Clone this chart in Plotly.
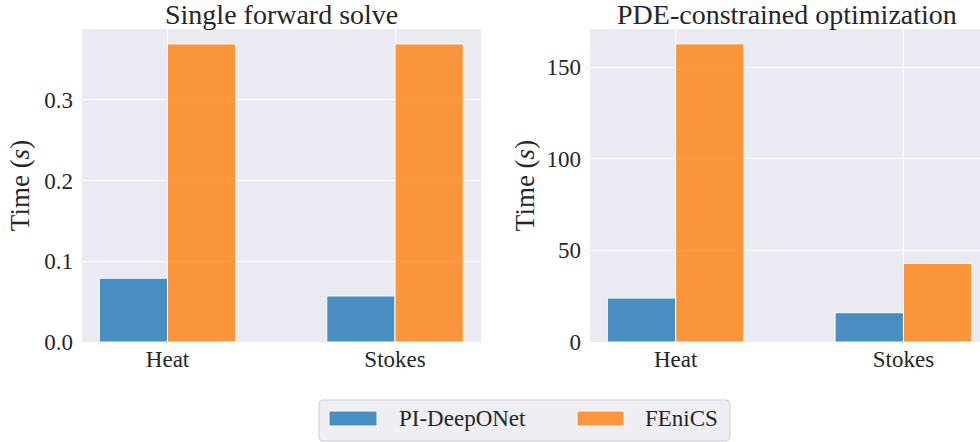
import plotly.graph_objects as go
from plotly.subplots import make_subplots

categories = ["Heat", "Stokes"]
series_names = ["PI-DeepONet", "FEniCS"]
forward_pideeponet = [0.079, 0.057]
forward_fenics = [0.369, 0.369]
optim_pideeponet = [24.0, 16.0]
optim_fenics = [162.8, 42.9]
titles = ["Single forward solve", "PDE-constrained optimization"]
left_ticks = [0.0, 0.1, 0.2, 0.3]
right_ticks = [0, 50, 100, 150]

colors = ["rgba(31,119,180,0.8)", "rgba(255,127,14,0.8)"]
FONT = "Liberation Serif"
BG = "#eaeaf2"
TXT = "#262626"
W, H = 980, 442

fig = make_subplots(rows=1, cols=2)
data = [(forward_pideeponet, forward_fenics), (optim_pideeponet, optim_fenics)]
for c, (a, b) in enumerate(data, start=1):
    for i, (name, vals) in enumerate(zip(series_names, (a, b))):
        fig.add_trace(go.Bar(
            x=categories, y=vals, name=name,
            marker=dict(color=colors[i], line=dict(color="white", width=1)),
            showlegend=False,
        ), row=1, col=c)

ydom = [1 - 342 / H, 1 - 29 / H]
fig.update_layout(
    width=W, height=H,
    margin=dict(l=0, r=0, t=0, b=0, pad=0, autoexpand=False),
    paper_bgcolor="white", plot_bgcolor=BG,
    barmode="group", bargap=0.4, bargroupgap=0,
    font=dict(family=FONT, color=TXT, size=23),
    showlegend=False,
    xaxis=dict(domain=[82 / W, 481 / W], range=[-0.376, 1.378]),
    xaxis2=dict(domain=[590 / W, 1.0], range=[-0.376, 1.336]),
    yaxis=dict(domain=ydom, range=[0, 0.3875], tickvals=left_ticks, tickformat=".1f"),
    yaxis2=dict(domain=ydom, range=[0, 170.9], tickvals=right_ticks),
)
for ax in ["xaxis", "xaxis2"]:
    fig.layout[ax].update(showgrid=True, gridcolor="white", gridwidth=1, zeroline=False,
                          showline=False, ticks="", tickfont=dict(size=23), ticklabelstandoff=1,
                          automargin=False)
for ax in ["yaxis", "yaxis2"]:
    fig.layout[ax].update(showgrid=True, gridcolor="white", gridwidth=1, zeroline=False,
                          showline=False, ticks="", tickfont=dict(size=23), ticklabelstandoff=8,
                          automargin=False)
fig.layout.yaxis.title = dict(text="Time (<i>s</i>)", font=dict(size=27), standoff=6)
fig.layout.yaxis2.title = dict(text="Time (<i>s</i>)", font=dict(size=27), standoff=4)

for t, cx in zip(titles, [281 / W, 787 / W]):
    fig.add_annotation(text=t, x=cx, y=1 - 14 / H, xref="paper", yref="paper",
                       xanchor="center", yanchor="middle", showarrow=False,
                       font=dict(size=28, family=FONT, color=TXT))

# legend (figure-level, below the panels)
def px(x):
    return x / W

def py(y):
    return 1 - y / H

x0, x1, y0, y1, r = 319, 730, 400, 441, 4
path = (f"M {px(x0 + r)},{py(y0)} L {px(x1 - r)},{py(y0)} "
        f"Q {px(x1)},{py(y0)} {px(x1)},{py(y0 + r)} L {px(x1)},{py(y1 - r)} "
        f"Q {px(x1)},{py(y1)} {px(x1 - r)},{py(y1)} L {px(x0 + r)},{py(y1)} "
        f"Q {px(x0)},{py(y1)} {px(x0)},{py(y1 - r)} L {px(x0)},{py(y0 + r)} "
        f"Q {px(x0)},{py(y0)} {px(x0 + r)},{py(y0)} Z")
fig.add_shape(type="path", path=path, xref="paper", yref="paper",
              fillcolor="rgba(238,238,244,1)", line=dict(color="#cfcfd6", width=1), layer="above")
swatches = [(329, 377), (577, 624)]
text_x = [397, 643]
for i, name in enumerate(series_names):
    sx0, sx1 = swatches[i]
    fig.add_shape(type="rect", xref="paper", yref="paper",
                  x0=px(sx0), x1=px(sx1), y0=py(426), y1=py(411),
                  fillcolor=colors[i], line=dict(color="white", width=1), layer="above")
    fig.add_annotation(text=name, x=px(text_x[i]), y=py(418.5), xref="paper", yref="paper",
                       xanchor="left", yanchor="middle", showarrow=False,
                       font=dict(size=23, family=FONT, color=TXT))

fig.write_html("out.html")
